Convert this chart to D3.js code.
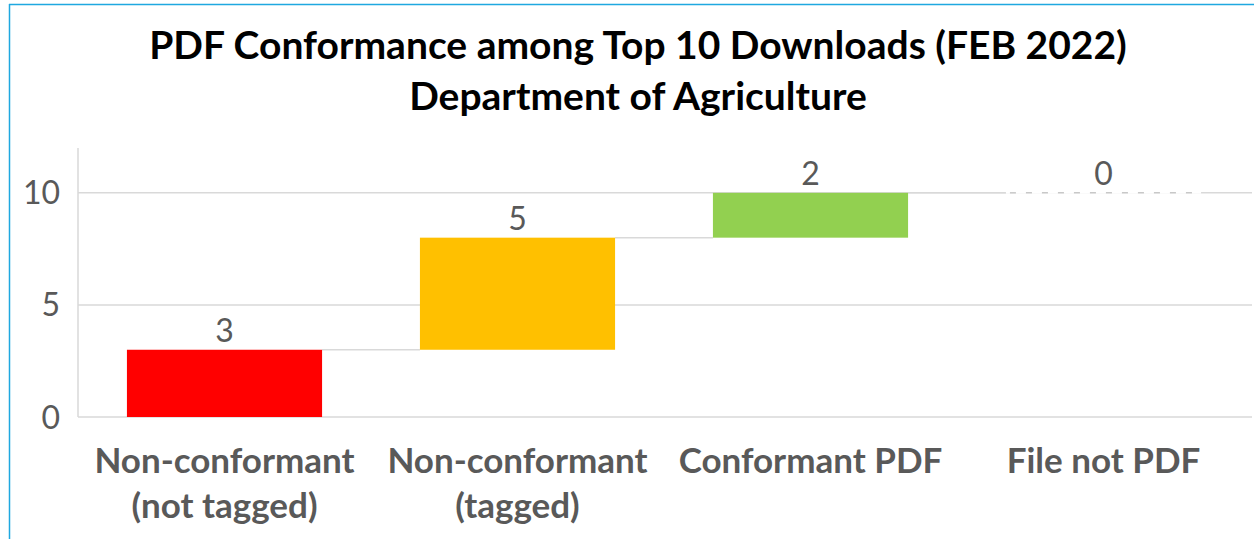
<!DOCTYPE html>
<html><head><meta charset="utf-8">
<script src="https://cdn.jsdelivr.net/npm/d3@7"></script>
<style>html,body{margin:0;padding:0;background:#fff;}svg{display:block;}</style>
</head><body>
<svg id="chart" width="1254" height="539"></svg>
<script>
const categories = [["Non-conformant","(not tagged)"],["Non-conformant","(tagged)"],["Conformant PDF"],["File not PDF"]];
const values = [3, 5, 2, 0];
const colors = ["#ff0000", "#ffc000", "#92d050", "#ffffff"];
const yTicks = [0, 5, 10];
const titleLines = ["PDF Conformance among Top 10 Downloads (FEB 2022)", "Department of Agriculture"];

const W = 1254, H = 539;
const svg = d3.select("#chart");
const FONT = "Lato, 'Open Sans', sans-serif";

// frame
svg.append("line").attr("x1", 9).attr("x2", W).attr("y1", 4.5).attr("y2", 4.5).attr("stroke", "#1fa8e0").attr("stroke-width", 1.5);
svg.append("line").attr("x1", 9.5).attr("x2", 9.5).attr("y1", 4).attr("y2", H).attr("stroke", "#1fa8e0").attr("stroke-width", 1.5);

const plot = {left: 78, right: 1250, top: 148, bottom: 417};
const ids = categories.map((c, i) => i);
const x = d3.scaleBand().domain(ids).range([plot.left, plot.right]).paddingInner(0.334).paddingOuter(0.167);
const y = d3.scaleLinear().domain([0, 12]).range([plot.bottom, plot.top]);

// cumulative
let acc = 0;
const bars = values.map((v, i) => { const s = acc; acc += v; return {i, v, start: s, end: acc}; });

// gridlines
const grid = svg.append("g");
yTicks.filter(t => t > 0).forEach(t => {
  grid.append("line").attr("x1", plot.left).attr("x2", 1252).attr("y1", y(t)).attr("y2", y(t))
    .attr("stroke", "#d9d9d9").attr("stroke-width", 1.5);
});
// axes lines
svg.append("line").attr("x1", plot.left).attr("x2", plot.left).attr("y1", plot.top).attr("y2", plot.bottom).attr("stroke", "#d9d9d9").attr("stroke-width", 1.5);
svg.append("line").attr("x1", plot.left).attr("x2", 1252).attr("y1", plot.bottom).attr("y2", plot.bottom).attr("stroke", "#d9d9d9").attr("stroke-width", 1.5);

// y tick labels
svg.append("g").selectAll("text").data(yTicks).join("text")
  .attr("x", 60).attr("y", d => y(d)).attr("dy", "0.36em").attr("text-anchor", "end")
  .attr("font-family", FONT).attr("font-size", 32).attr("fill", "#595959").text(d => d);

// connectors
bars.slice(0, -1).forEach((b, k) => {
  svg.append("line").attr("x1", x(b.i) + x.bandwidth()).attr("x2", x(bars[k+1].i))
    .attr("y1", y(b.end)).attr("y2", y(b.end)).attr("stroke", "#d9d9d9").attr("stroke-width", 1.5);
});

// bars
svg.append("g").selectAll("rect").data(bars.filter(b => b.v > 0)).join("rect")
  .attr("x", d => x(d.i)).attr("width", x.bandwidth())
  .attr("y", d => y(d.end)).attr("height", d => y(d.start) - y(d.end))
  .attr("fill", d => colors[d.i]);
// zero bars: dashed
bars.filter(b => b.v === 0).forEach(b => {
  svg.append("line").attr("x1", x(b.i)).attr("x2", x(b.i) + x.bandwidth()).attr("y1", y(b.end)).attr("y2", y(b.end))
    .attr("stroke", "#ffffff").attr("stroke-width", 2);
  svg.append("line").attr("x1", x(b.i) + 4).attr("x2", x(b.i) + x.bandwidth()).attr("y1", y(b.end)).attr("y2", y(b.end))
    .attr("stroke", "#c8c8c8").attr("stroke-width", 1.5).attr("stroke-dasharray", "6,10");
});

// value labels
svg.append("g").selectAll("text").data(bars).join("text")
  .attr("x", d => x(d.i) + x.bandwidth() / 2).attr("y", d => y(d.end) - 8)
  .attr("text-anchor", "middle").attr("font-family", FONT).attr("font-size", 32).attr("fill", "#595959")
  .text(d => d.v);

// category labels
const cl = svg.append("g");
categories.forEach((lines, i) => {
  const t = cl.append("text").attr("text-anchor", "middle").attr("font-family", FONT).attr("font-size", 35)
    .attr("font-weight", "bold").attr("fill", "#595959");
  lines.forEach((s, j) => t.append("tspan").attr("x", x(i) + x.bandwidth() / 2).attr("y", 473 + j * 45).text(s));
});

// title
const tt = svg.append("text").attr("text-anchor", "middle").attr("font-family", FONT).attr("font-size", 39).attr("font-weight", "bold").attr("fill", "#000");
titleLines.forEach((s, j) => tt.append("tspan").attr("x", 638).attr("y", 59 + j * 51).text(s));
</script>
</body></html>
